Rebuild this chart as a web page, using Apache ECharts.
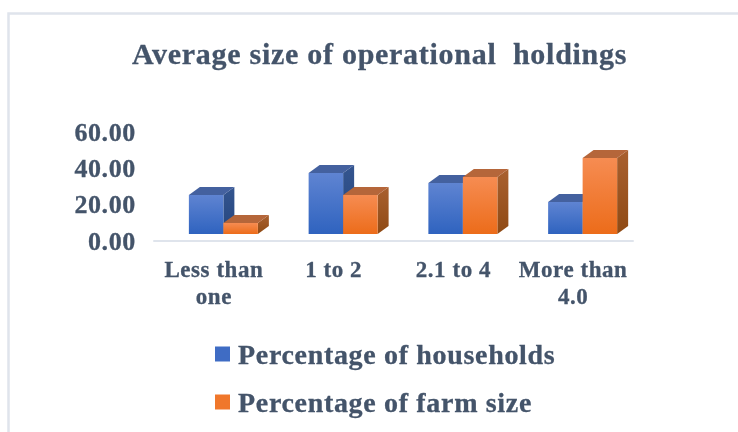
<!DOCTYPE html>
<html>
<head>
<meta charset="utf-8">
<style>
  html, body { margin: 0; padding: 0; background: #fff; }
  #main { width: 738px; height: 432px; filter: blur(0.4px); }
  /* the source picture is set wider and heavier than plain Liberation Serif bold */
  #main text { letter-spacing: 0.024em; stroke: #44546a; stroke-width: 0.3px; }
</style>
</head>
<body>
<div id="main"></div>
<script src="https://cdn.jsdelivr.net/npm/echarts@6/dist/echarts.min.js"></script>
<script>
const categories = ["Less than\none", "1 to 2", "2.1 to 4", "More than\n4.0"];
const households = [21.5, 33.6, 28.1, 17.6];
const farmSize = [6.1, 21.5, 31.4, 41.9];

const textColor = "#44546a";
const barWidth = 34.5;
const depthX = 11;
const depthY = 8;
const floorLift = 7; // front of the bars sits above the axis line
const groupShift = 9.5; // bars are pushed right of the category centre

const grad = (top, bottom) => new echarts.graphic.LinearGradient(0, 0, 0, 1, [
  { offset: 0, color: top },
  { offset: 1, color: bottom },
]);

// one 3D box per value: front, top and side faces
const box = (slot, colors) => (params, api) => {
  const p = api.coord([api.value(0), api.value(1)]);
  const base = api.coord([api.value(0), 0]);
  const x0 = p[0] + groupShift + (slot === 0 ? -barWidth : 0);
  const x1 = x0 + barWidth;
  const yTop = p[1] - floorLift;
  const yBase = base[1] - floorLift;
  return {
    type: "group",
    children: [
      {
        type: "polygon",
        shape: { points: [[x1, yTop], [x1 + depthX, yTop - depthY], [x1 + depthX, yBase - depthY], [x1, yBase]] },
        style: { fill: colors.side },
      },
      {
        type: "polygon",
        shape: { points: [[x0, yTop], [x0 + depthX, yTop - depthY], [x1 + depthX, yTop - depthY], [x1, yTop]] },
        style: { fill: colors.top },
      },
      {
        type: "rect",
        shape: { x: x0, y: yTop, width: barWidth, height: yBase - yTop },
        style: { fill: colors.front },
      },
    ],
  };
};

const blueFaces = { front: grad("#5f84d2", "#2f63bf"), top: "#44619f", side: grad("#34558f", "#25467f") };
const orangeFaces = { front: grad("#f68c52", "#ec6c1a"), top: "#b5663a", side: grad("#a9602f", "#8f4a14") };

const myChart = echarts.init(document.getElementById("main"), null, { renderer: "svg" });

const option = {
  animation: false,
  backgroundColor: "#fff",
  graphic: [
    {
      type: "polyline",
      silent: true,
      shape: { points: [[8.5, 432], [8.5, 13.5], [738, 13.5]] },
      style: { stroke: "#dfe4ec", lineWidth: 2.5, fill: null },
    },
  ],
  title: {
    text: "Average size of operational  holdings",
    left: 374.5,
    top: 33,
    textAlign: "center",
    textStyle: { fontFamily: "Liberation Serif", fontWeight: "bold", fontSize: 30, color: textColor },
  },
  legend: {
    orient: "vertical",
    left: 210,
    top: 335,
    itemWidth: 15,
    itemHeight: 15,
    itemGap: 20,
    icon: "rect",
    textStyle: { fontFamily: "Liberation Serif", fontWeight: "bold", fontSize: 28, color: textColor, padding: [0, 0, 8, 3] },
    data: ["Percentage of households", "Percentage of farm size"],
  },
  grid: { left: 154, right: 105, top: 132, height: 109 },
  xAxis: {
    type: "category",
    data: categories,
    axisTick: { show: false },
    axisLine: { lineStyle: { color: "#dfe4ec", width: 2 } },
    axisLabel: {
      margin: 15,
      lineHeight: 27,
      interval: 0,
      fontFamily: "Liberation Serif",
      fontWeight: "bold",
      fontSize: 23,
      color: textColor,
    },
  },
  yAxis: {
    type: "value",
    min: 0,
    max: 60,
    interval: 20,
    splitLine: { show: false },
    axisLine: { show: false },
    axisTick: { show: false },
    axisLabel: {
      margin: 18,
      padding: [3, 0, 0, 0],
      formatter: v => v.toFixed(2),
      fontFamily: "Liberation Serif",
      fontWeight: "bold",
      fontSize: 26,
      color: textColor,
    },
  },
  series: [
    {
      name: "Percentage of households",
      type: "custom",
      renderItem: box(0, blueFaces),
      itemStyle: { color: "#3f6cc4" },
      encode: { x: 0, y: 1 },
      data: households.map((v, i) => [i, v]),
    },
    {
      name: "Percentage of farm size",
      type: "custom",
      renderItem: box(1, orangeFaces),
      itemStyle: { color: "#f0772b" },
      encode: { x: 0, y: 1 },
      data: farmSize.map((v, i) => [i, v]),
    },
  ],
};

myChart.setOption(option);
</script>
</body>
</html>
